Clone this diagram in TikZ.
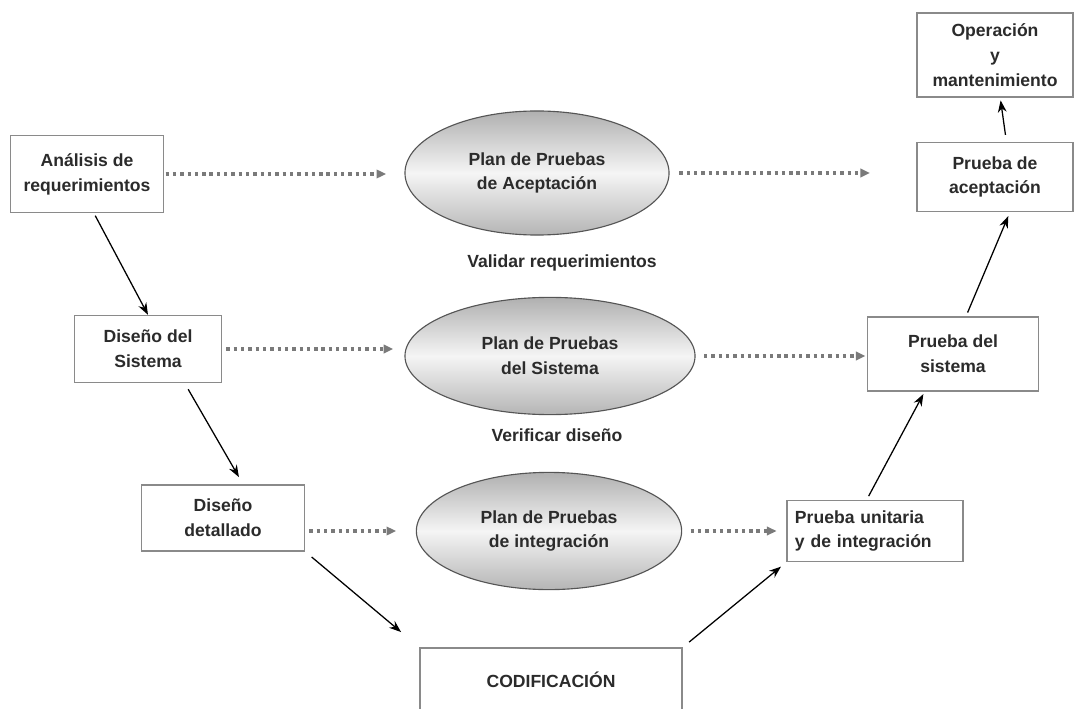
\documentclass[tikz,border=0pt]{standalone}
\usepackage{xcolor}
\usepackage{fontspec}
\setmainfont{Liberation Sans}
\usepackage{tikz}
\usetikzlibrary{shapes.geometric, arrows.meta, positioning}
\definecolor{ptext}{HTML}{2B2B2B}
\definecolor{pline}{HTML}{8A8A8A}
\definecolor{pedge}{HTML}{555555}
\definecolor{pdot}{HTML}{7A7A7A}
\tikzset{
  fase/.style={rectangle, draw=pline, line width=0.8pt, fill=white, text=ptext,
               align=center, inner sep=2pt,
               font=\fontsize{12.5}{17.7}\selectfont\bfseries},
  plan/.style={ellipse, draw=pedge, line width=0.8pt, inner sep=0pt,
               top color=gray!62, bottom color=gray!58, middle color=gray!8,
               text=ptext, align=center,
               minimum width=6.6cm, minimum height=2.93cm,
               font=\fontsize{12.5}{17.7}\selectfont\bfseries},
  nota/.style={text=ptext, font=\fontsize{12.5}{15}\selectfont\bfseries},
  flow/.style={-{Stealth[length=3mm, width=2.2mm]}, draw=black, line width=0.9pt},
  dotflow/.style={-{Triangle[length=2.4mm, width=2.1mm]}, draw=pdot, line width=2.6pt,
                  dash pattern=on 2.4pt off 2.8pt}
}

\begin{document}
\begin{tikzpicture}[x=0.025cm, y=-0.025cm]
  \useasboundingbox (0,0) rectangle (1075,708);

  % fases de desarrollo (izquierda)
  \node[fase, minimum width=3.83cm, minimum height=1.93cm] (ana) at (87,174) {An\'alisis de\\requerimientos};
  \node[fase, minimum width=3.68cm, minimum height=1.68cm] (dsis) at (148,349) {Dise\~no del\\Sistema};
  \node[fase, minimum width=4.08cm, minimum height=1.65cm] (ddet) at (223,518) {Dise\~no\\detallado};
  \node[fase, minimum width=6.55cm, minimum height=1.6cm] (cod) at (551,680) {CODIFICACI\'ON};

  % fases de prueba (derecha)
  \node[fase, minimum width=4.4cm, minimum height=1.53cm, text width=4.0cm, align=left] (punit) at (875,531) {Prueba unitaria\\y de integraci\'on};
  \node[fase, minimum width=4.28cm, minimum height=1.85cm] (psis) at (953,354) {Prueba del\\sistema};
  \node[fase, minimum width=3.9cm, minimum height=1.73cm] (pacep) at (995,177) {Prueba de\\aceptaci\'on};
  \node[fase, minimum width=3.9cm, minimum height=2.1cm] (oper) at (995,55) {Operaci\'on\\y\\mantenimiento};

  % planes de pruebas
  \node[plan, minimum height=3.1cm] (eacep) at (537,173) {Plan de Pruebas\\de Aceptaci\'on};
  \node[plan, minimum width=7.25cm] (esis) at (550,356) {Plan de Pruebas\\del Sistema};
  \node[plan, minimum width=6.63cm] (eint) at (549,531) {Plan de Pruebas\\de integraci\'on};

  \node[nota] (lval) at (562,263) {Validar requerimientos};
  \node[nota] (lver) at (557,435) {Verificar dise\~no};

  % flujo principal
  \draw[flow, shorten <=2pt] (ana.-80) -- (dsis.north);
  \draw[flow, shorten <=5pt, shorten >=6pt] (dsis.-43) -- (ddet.59);
  \draw[flow, shorten <=6pt, shorten >=17pt] (ddet.south east) -- (cod.north west);
  \draw[flow, shorten <=6pt, shorten >=5pt] (cod.north east) -- (punit.south west);
  \draw[flow, shorten <=3pt, shorten >=2pt] (punit.105) -- (psis.-127);
  \draw[flow, shorten <=3pt, shorten >=3pt] (psis.71) -- (pacep.-67);
  \draw[flow, shorten <=5pt, shorten >=2pt] (pacep.72) -- (oper.-83);

  % planes
  \draw[dotflow, shorten <=1pt, shorten >=13pt] (ana.east) -- (ana.east -| eacep.west);
  \draw[dotflow, shorten <=7pt, shorten >=33pt] (eacep.east) -- (eacep.east -| pacep.west);
  \draw[dotflow, shorten <=3pt, shorten >=8pt] (dsis.east) -- (dsis.east -| esis.west);
  \draw[dotflow, shorten <=6pt, shorten >=1pt] (esis.east) -- (esis.east -| psis.west);
  \draw[dotflow, shorten <=3pt, shorten >=14pt] (eint.west -| ddet.east) -- (eint.west);
  \draw[dotflow, shorten <=6pt, shorten >=7pt] (eint.east) -- (punit.west);
\end{tikzpicture}
\end{document}
